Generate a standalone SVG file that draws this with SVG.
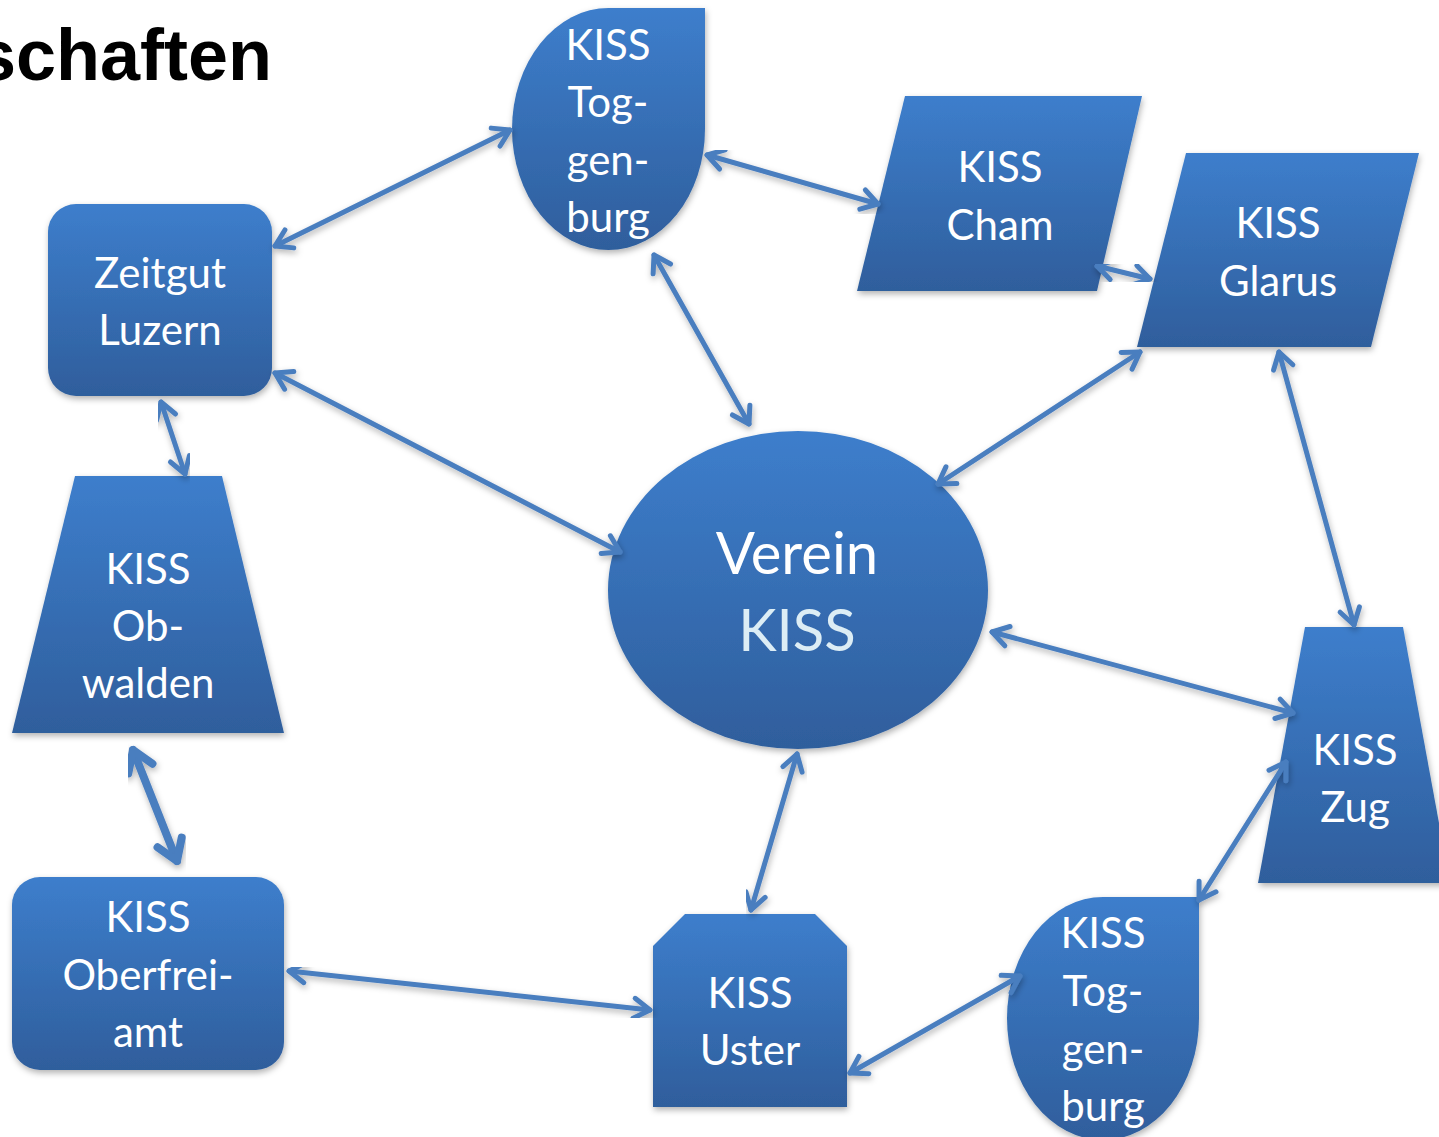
<svg xmlns="http://www.w3.org/2000/svg" width="1439" height="1137" viewBox="0 0 1439 1137">
<defs>
<linearGradient id="g" x1="0" y1="0" x2="0" y2="1">
<stop offset="0" stop-color="#3d7ecc"/>
<stop offset="1" stop-color="#2f5e9c"/>
</linearGradient>
<filter id="sh" x="-10%" y="-10%" width="130%" height="130%">
<feDropShadow dx="1" dy="3" stdDeviation="3" flood-color="#000" flood-opacity="0.3"/>
</filter>
<marker id="ah" markerUnits="userSpaceOnUse" viewBox="-24 -14 28 28" markerWidth="28" markerHeight="28" refX="0" refY="0" orient="auto-start-reverse">
<path d="M -16 -10 L 0 0 L -16 10" fill="none" stroke="#4a7ebf" stroke-width="5" stroke-linecap="round" stroke-linejoin="round"/>
</marker>
<marker id="ah2" markerUnits="userSpaceOnUse" viewBox="-30 -18 36 36" markerWidth="36" markerHeight="36" refX="0" refY="0" orient="auto-start-reverse">
<path d="M -20 -13 L 0 0 L -20 13" fill="none" stroke="#4a7ebf" stroke-width="8" stroke-linecap="round" stroke-linejoin="round"/>
</marker>
</defs>
<style>
.n{fill:url(#g);filter:url(#sh)}
.t{font-family:Lato,"Open Sans","Liberation Sans",sans-serif;font-size:42px;fill:#fff;text-anchor:middle}
.big{font-size:58px}
.c{fill:none;stroke:#4a7ebf;stroke-width:5;stroke-linecap:round;marker-start:url(#ah);marker-end:url(#ah);filter:url(#sh)}
.c2{fill:none;stroke:#4a7ebf;stroke-width:8;stroke-linecap:round;marker-start:url(#ah2);marker-end:url(#ah2);filter:url(#sh)}
.title{font-family:"Liberation Sans",Arial,sans-serif;font-weight:bold;font-size:72px;fill:#000}
</style>
<rect width="1439" height="1137" fill="#fff"/>
<text class="title" x="-24" y="80">schaften</text>

<g id="toggenburg1">
<path class="n" d="M 608.5 8 L 705 8 L 705 129 A 96.5 121 0 0 1 608.5 250 A 96.5 121 0 0 1 512 129 A 96.5 121 0 0 1 608.5 8 Z"/>
<text class="t" x="608" y="60">KISS</text>
<text class="t" x="608" y="117">Tog-</text>
<text class="t" x="608" y="175">gen-</text>
<text class="t" x="608" y="232">burg</text>
</g>
<g id="cham">
<path class="n" d="M 905 96 L 1142 96 L 1097 291 L 857 291 Z"/>
<text class="t" x="1000" y="182">KISS</text>
<text class="t" x="1000" y="240">Cham</text>
</g>
<g id="glarus">
<path class="n" d="M 1186 153 L 1419 153 L 1371 347 L 1137 347 Z"/>
<text class="t" x="1278" y="238">KISS</text>
<text class="t" x="1278" y="296">Glarus</text>
</g>
<g id="zeitgut">
<rect class="n" x="48" y="204" width="224" height="192" rx="28"/>
<text class="t" x="160" y="288">Zeitgut</text>
<text class="t" x="160" y="345">Luzern</text>
</g>
<g id="obwalden">
<path class="n" d="M 75 476 L 222 476 L 284 733 L 12 733 Z"/>
<text class="t" x="148" y="584">KISS</text>
<text class="t" x="148" y="641">Ob-</text>
<text class="t" x="148" y="698">walden</text>
</g>
<g id="verein">
<ellipse class="n" cx="798" cy="590" rx="190" ry="159"/>
<text class="t big" x="797" y="574">Verein</text>
<text class="t big" x="797" y="651" fill="#dcedf5" style="fill:#dcedf5">KISS</text>
</g>
<g id="zug">
<path class="n" d="M 1305 627 L 1403 627 L 1450 883 L 1258 883 Z"/>
<text class="t" x="1355" y="765">KISS</text>
<text class="t" x="1355" y="822">Zug</text>
</g>
<g id="toggenburg2">
<path class="n" d="M 1103 897 L 1199 897 L 1199 1018.5 A 96 121.5 0 0 1 1103 1140 A 96 121.5 0 0 1 1007 1018.5 A 96 121.5 0 0 1 1103 897 Z"/>
<text class="t" x="1103" y="948">KISS</text>
<text class="t" x="1103" y="1006">Tog-</text>
<text class="t" x="1103" y="1064">gen-</text>
<text class="t" x="1103" y="1121">burg</text>
</g>
<g id="uster">
<path class="n" d="M 685 914 L 815 914 L 847 946 L 847 1107 L 653 1107 L 653 946 Z"/>
<text class="t" x="750" y="1008">KISS</text>
<text class="t" x="750" y="1065">Uster</text>
</g>
<g id="oberfreiamt">
<rect class="n" x="12" y="877" width="272" height="193" rx="28"/>
<text class="t" x="148" y="932">KISS</text>
<text class="t" x="148" y="990">Oberfrei-</text>
<text class="t" x="148" y="1047">amt</text>
</g>

<g id="connectors">
<line class="c" x1="275" y1="246" x2="510" y2="130"/>
<line class="c" x1="707" y1="155" x2="878" y2="204"/>
<line class="c" x1="654" y1="255" x2="749" y2="424"/>
<line class="c" x1="1097" y1="266" x2="1150" y2="279"/>
<line class="c" x1="1140" y1="352" x2="938" y2="484"/>
<line class="c" x1="275" y1="373" x2="620" y2="552"/>
<line class="c" x1="161" y1="402" x2="185" y2="474"/>
<line class="c" x1="1279" y1="352" x2="1354" y2="625"/>
<line class="c" x1="992" y1="632" x2="1293" y2="713"/>
<line class="c2" x1="133" y1="750" x2="177" y2="861"/>
<line class="c" x1="797" y1="754" x2="751" y2="910"/>
<line class="c" x1="1286" y1="762" x2="1199" y2="900"/>
<line class="c" x1="289" y1="971" x2="650" y2="1010"/>
<line class="c" x1="850" y1="1073" x2="1020" y2="976"/>
</g>
</svg>
